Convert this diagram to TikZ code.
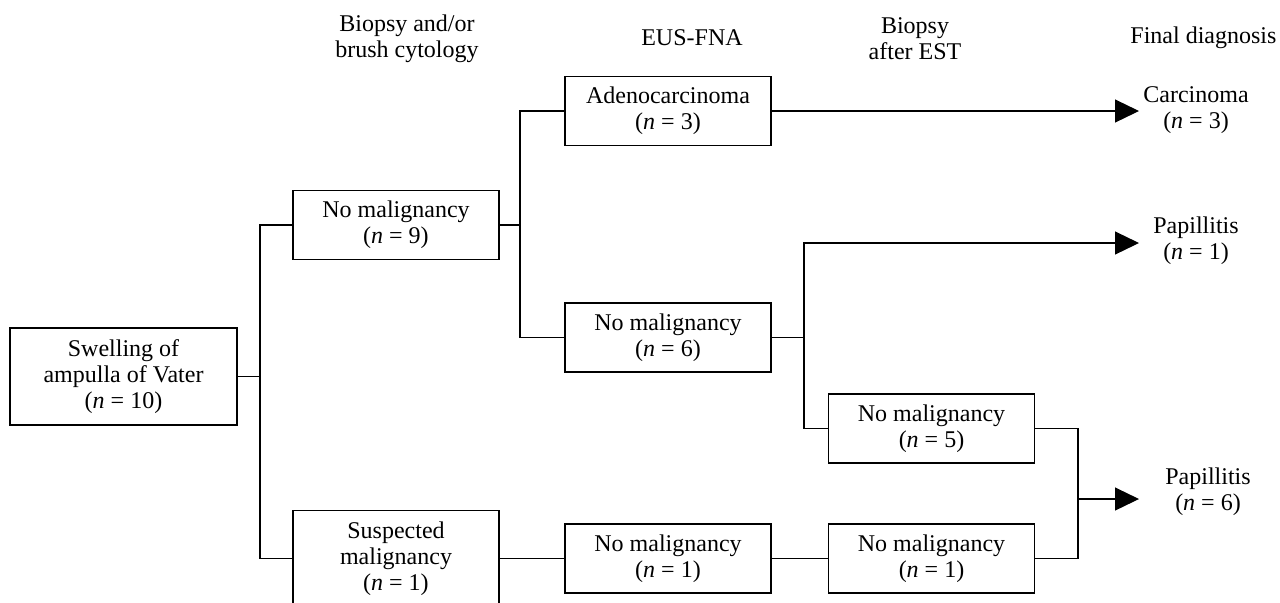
\documentclass[tikz,border=0pt]{standalone}
\usepackage{fontspec}
\setmainfont{Liberation Serif}
\usetikzlibrary{arrows.meta}

\begin{document}
\begin{tikzpicture}[-,
					x=0.5pt, y=-0.5pt,
					>={Triangle[length=12pt,width=11.5pt]},
					semithick,
					font=\fontsize{12}{13}\selectfont,
					box node/.style={draw,align=center,minimum width=103pt,minimum height=34.5pt,inner sep=0pt},
					end node/.style={align=center,inner sep=0pt},
					head node/.style={align=center,inner sep=0pt}]

  \useasboundingbox (0,0) rectangle (1280,602);

  % column heads
  \node[head node] (H1) at (407,39) {Biopsy and/or\\brush cytology};
  \node[head node] (H2) at (692,38) {EUS-FNA};
  \node[head node] (H3) at (915,39) {Biopsy\\after EST};
  \node[head node,anchor=east] (H4) at (1277,38) {Final diagnosis};

  % boxes
  \node[box node,minimum width=113.5pt,minimum height=48.5pt] (swell) at (123.5,376.5) {Swelling of\\ampulla of Vater\\(\textit{n} = 10)};
  \node[box node] (nomal9) at (396,225) {No malignancy\\(\textit{n} = 9)};
  \node[box node,minimum height=48pt] (susp) at (396,558.5) {Suspected\\malignancy\\(\textit{n} = 1)};
  \node[box node] (adeno) at (668,111) {Adenocarcinoma\\(\textit{n} = 3)};
  \node[box node] (nomal6) at (668,337.5) {No malignancy\\(\textit{n} = 6)};
  \node[box node] (eus1) at (668,558.5) {No malignancy\\(\textit{n} = 1)};
  \node[box node] (nomal5) at (931.5,428.5) {No malignancy\\(\textit{n} = 5)};
  \node[box node] (est1) at (931.5,558.5) {No malignancy\\(\textit{n} = 1)};

  % final diagnosis
  \node[end node] (carc) at (1196,110) {Carcinoma\\(\textit{n} = 3)};
  \node[end node] (papi1) at (1196,241) {Papillitis\\(\textit{n} = 1)};
  \node[end node] (papi6) at (1208,492) {Papillitis\\(\textit{n} = 6)};

  \coordinate (j1) at (260,376.5);
  \coordinate (j2) at (520,225);
  \coordinate (j3) at (804,337.5);
  \coordinate (j4) at (1078,499);
  \coordinate (tip1) at (1139,111);
  \coordinate (tip2) at (1139,243);
  \coordinate (tip3) at (1139,499);

  \draw (swell.east) -- (j1);
  \draw (nomal9.west) -| (j1) |- (susp.west);
  \draw (nomal9.east) -- (j2);
  \draw (adeno.west) -| (j2) |- (nomal6.west);
  \draw (nomal6.east) -- (j3);
  \draw (j3) |- (nomal5.west);
  \draw (susp.east) -- (eus1.west);
  \draw (eus1.east) -- (est1.west);
  \draw (nomal5.east) -| (j4) |- (est1.east);

  \draw[->] (adeno.east) -- (tip1);
  \draw[->] (j3) |- (tip2);
  \draw[->] (j4) -- (tip3);
\end{tikzpicture}
\end{document}
